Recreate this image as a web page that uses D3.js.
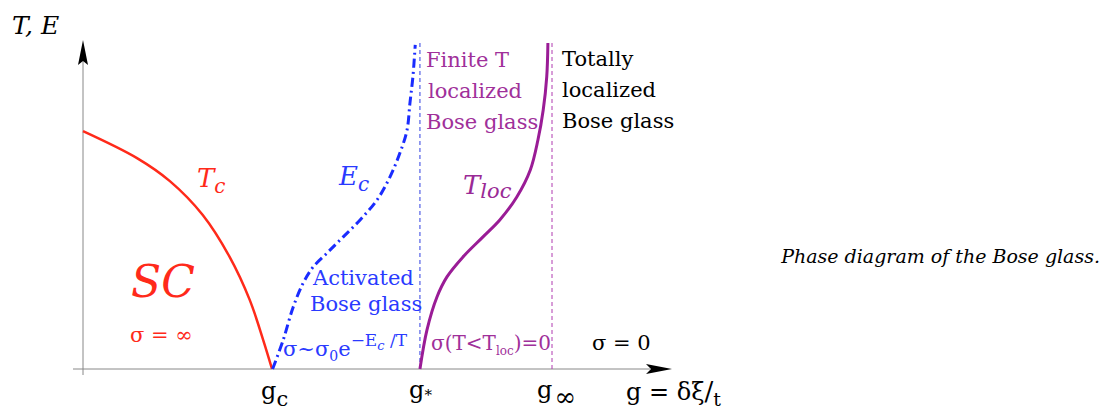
<!DOCTYPE html>
<html>
<head>
<meta charset="utf-8">
<script src="https://cdn.jsdelivr.net/npm/d3@7"></script>
<style>
  body { margin: 0; background: #fff; }
</style>
</head>
<body>
<div id="chart"></div>
<script>
// curve points, g on x, T/E on y (arbitrary units)
const tcCurve = [[0, 7.23], [0.92, 6.41], [1.48, 5.71], [2.04, 4.68], [2.50, 3.40],
                 [2.84, 2.10], [3.07, 0.88], [3.22, 0]];
const ecCurve = [[3.23, 0], [3.41, 0.88], [3.58, 1.88], [3.75, 2.61], [3.92, 3.10],
                 [4.16, 3.53], [4.43, 4.01], [4.72, 4.53], [5.01, 5.14], [5.23, 5.84],
                 [5.40, 6.57], [5.52, 7.26], [5.57, 8.09], [5.62, 8.88], [5.66, 9.85]];
const tlocCurve = [[5.74, 0], [5.86, 1.19], [6.03, 2.19], [6.20, 2.80], [6.47, 3.40],
                   [6.81, 4.01], [7.10, 4.53], [7.39, 5.23], [7.62, 6.05], [7.75, 6.96],
                   [7.84, 7.87], [7.90, 8.88], [7.92, 9.91]];
const gMarks = [3.22, 5.74, 7.99];   // g_c, g_*, g_inf
const dashTop = 9.91;

const W = 1105, H = 418;
const SERIF = "DejaVu Serif";
const x = d3.scaleLinear().domain([0, 10]).range([83, 670]);
const y = d3.scaleLinear().domain([0, 10]).range([369, 40]);

const svg = d3.select("#chart").append("svg")
    .attr("width", W).attr("height", H);

// axes
svg.append("line").attr("x1", x(0)).attr("x2", x(0)).attr("y1", y(0) + 6).attr("y2", y(10) + 20)
   .attr("stroke", "#888").attr("stroke-width", 1);
svg.append("line").attr("x1", x(0) - 10).attr("x2", x(10) - 20).attr("y1", y(0)).attr("y2", y(0))
   .attr("stroke", "#888").attr("stroke-width", 1);
svg.append("path")
   .attr("d", `M${x(0)},${y(10)} L${x(0) - 5},${y(10) + 25} L${x(0)},${y(10) + 21} L${x(0) + 5},${y(10) + 25} Z`)
   .attr("fill", "#000");
svg.append("path")
   .attr("d", `M${x(10) + 2},${y(0)} L${x(10) - 24},${y(0) - 5} L${x(10) - 19},${y(0)} L${x(10) - 24},${y(0) + 5} Z`)
   .attr("fill", "#000");

// dashed verticals at g_* and g_inf
svg.append("line").attr("x1", x(gMarks[1])).attr("x2", x(gMarks[1]))
   .attr("y1", y(0)).attr("y2", y(dashTop))
   .attr("stroke", "#2f3fe0").attr("stroke-width", 1).attr("stroke-dasharray", "4,3");
svg.append("line").attr("x1", x(gMarks[2])).attr("x2", x(gMarks[2]))
   .attr("y1", y(0)).attr("y2", y(dashTop))
   .attr("stroke", "#b03ab0").attr("stroke-width", 1).attr("stroke-dasharray", "4,3");

const line = d3.line().x(d => x(d[0])).y(d => y(d[1])).curve(d3.curveCatmullRom);

svg.append("path").datum(tcCurve).attr("d", line)
   .attr("fill", "none").attr("stroke", "#ff2a1a").attr("stroke-width", 2.5);
svg.append("path").datum(ecCurve).attr("d", line)
   .attr("fill", "none").attr("stroke", "#1a2cff").attr("stroke-width", 3)
   .attr("stroke-dasharray", "9,4,2,4");
svg.append("path").datum(tlocCurve).attr("d", line)
   .attr("fill", "none").attr("stroke", "#9a1c96").attr("stroke-width", 3);

// text helper
function label(px, py, size, color, italic) {
  return svg.append("text").attr("x", px).attr("y", py)
    .style("font-family", SERIF)
    .style("font-size", size + "px").attr("fill", color)
    .style("font-style", italic ? "italic" : "normal");
}

label(12, 34, 25, "#000", true).text("T, E");

let t = label(197, 187, 26, "#ff2a1a", true);
t.append("tspan").text("T");
t.append("tspan").attr("dy", 6).style("font-size", "20px").text("c");

t = label(339, 185, 26, "#2a3aff", true);
t.append("tspan").text("E");
t.append("tspan").attr("dy", 6).style("font-size", "20px").text("c");

t = label(463, 194, 26, "#9a2a96", true);
t.append("tspan").text("T");
t.append("tspan").attr("dy", 4).style("font-size", "21px").text("loc");

label(131, 297, 44, "#ff2a1a", true).text("SC");
label(130, 342, 21, "#ff2a1a", false).text("σ = ∞");

const blue = "#2a3aff";
label(313, 285, 21, blue, false).text("Activated");
label(310, 311, 21, blue, false).text("Bose glass");
t = label(283, 356, 21, blue, false);
t.append("tspan").text("σ~σ");
t.append("tspan").attr("dy", 5).style("font-size", "14px").text("0");
t.append("tspan").attr("dy", -5).text("e");
t.append("tspan").attr("dy", -10).style("font-size", "17px").text("−E");
t.append("tspan").attr("dy", 4).style("font-size", "13px").style("font-style", "italic").text("c");
t.append("tspan").attr("dy", -4).style("font-size", "17px").text(" /T");

const purple = "#a0309a";
label(426, 67, 21, purple, false).text("Finite T");
label(428, 98, 21, purple, false).text("localized");
label(426, 129, 21, purple, false).text("Bose glass");

label(562, 66, 21, "#000", false).text("Totally");
label(562, 97, 21, "#000", false).text("localized");
label(562, 128, 21, "#000", false).text("Bose glass");

t = label(431, 350, 20, purple, false);
t.append("tspan").text("σ(T<T");
t.append("tspan").attr("dy", 5).style("font-size", "12px").text("loc");
t.append("tspan").attr("dy", -5).text(")=0");

label(592, 350, 21, "#000", false).text("σ = 0");

// axis marks
t = label(261, 399, 24, "#000", false);
t.append("tspan").text("g");
t.append("tspan").attr("dy", 7).style("font-size", "21px").text("c");
t = label(409, 398, 24, "#000", false);
t.append("tspan").text("g");
t.append("tspan").attr("dy", 2).style("font-size", "15px").text("*");
t = label(537, 398, 24, "#000", false);
t.append("tspan").text("g");
t.append("tspan").attr("dx", 2).attr("dy", 8).style("font-size", "26px").text("∞");
t = label(626, 400, 24, "#000", false);
t.append("tspan").text("g = δξ");
t.append("tspan").style("font-size", "26px").text("/");
t.append("tspan").attr("dy", 6).style("font-size", "19px").text("t");

label(1100, 263, 19, "#000", true).attr("text-anchor", "end")
  .text("Phase diagram of the Bose glass.");
</script>
</body>
</html>
